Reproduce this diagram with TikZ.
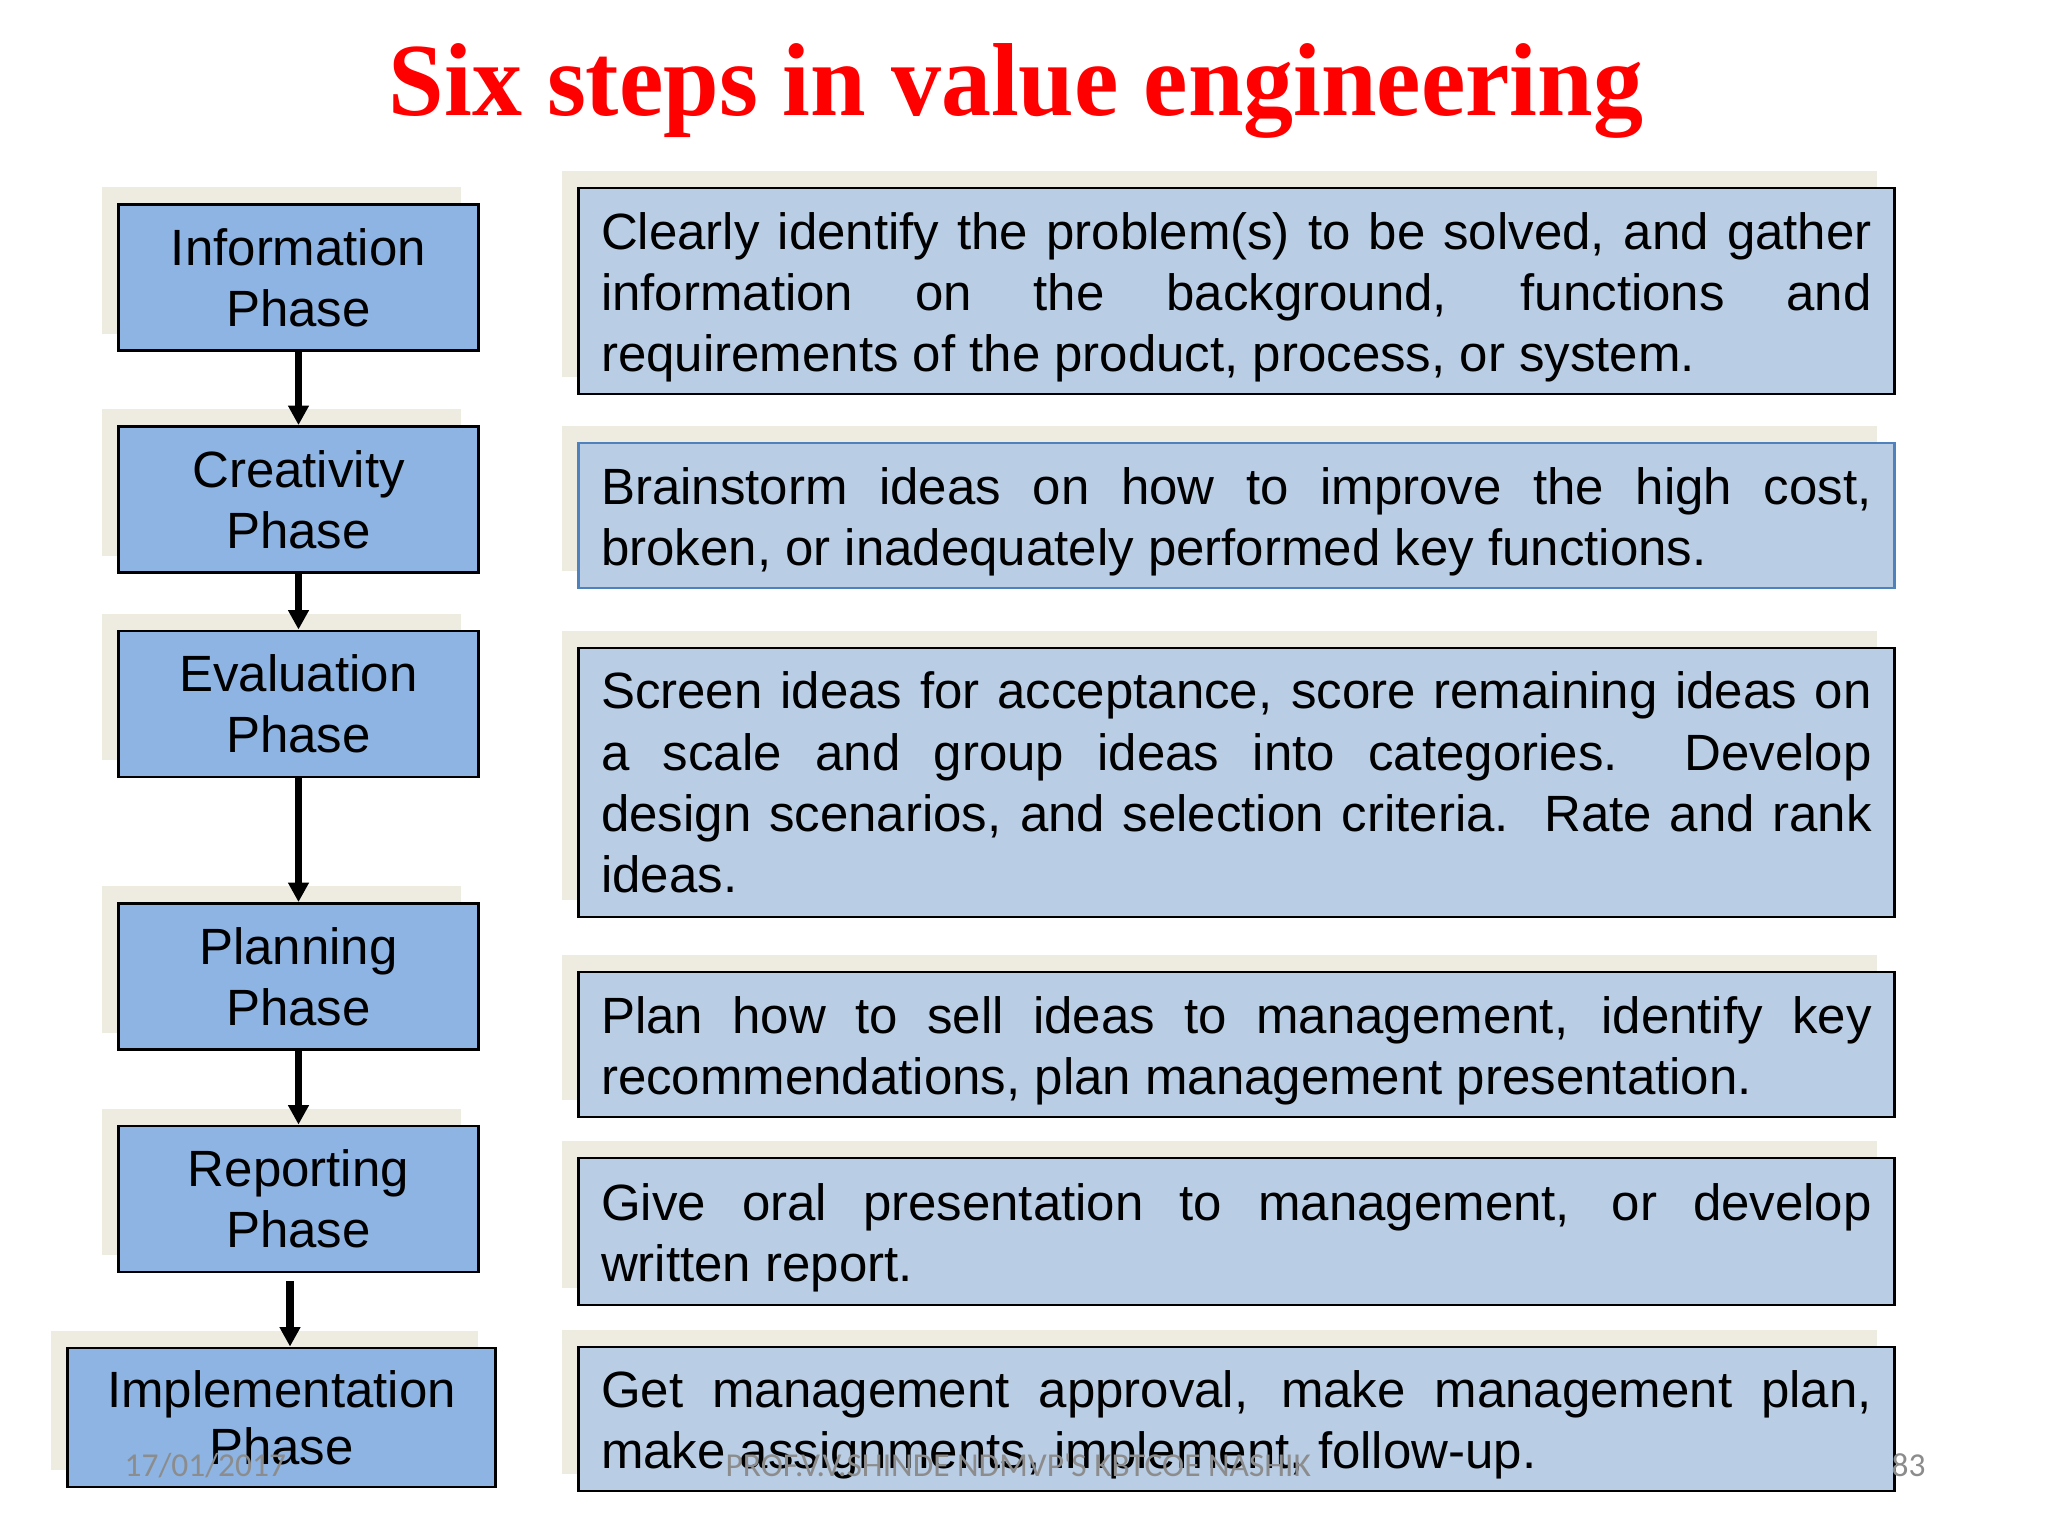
\documentclass[tikz,border=0pt]{standalone}
\usepackage{fontspec}
\usepackage{graphicx}
\setmainfont{Liberation Sans}
\newfontfamily\titlefont{Liberation Serif}
\newfontfamily\footfont{Carlito}
\usetikzlibrary{arrows.meta,shadows}
\definecolor{phasefill}{RGB}{141,180,226}
\definecolor{taskfill}{RGB}{185,205,229}
\definecolor{shadowgray}{RGB}{238,236,225}
\definecolor{taskblue}{RGB}{79,129,189}
\definecolor{footgray}{RGB}{140,140,140}
\definecolor{titlered}{RGB}{255,0,0}
\hyphenpenalty=10000
\exhyphenpenalty=10000
\begin{document}
\begin{tikzpicture}[x=0.01cm, y=-0.01cm,
    phase/.style = {rectangle, draw = black, line width = 0.8pt, fill = phasefill,
      minimum width = 3.59cm, minimum height = 1.46cm, align = center,
      font = \fontsize{14.5}{17.4}\selectfont,
      general shadow = {fill = shadowgray, shadow xshift = -0.17cm, shadow yshift = 0.17cm}},
    task/.style = {rectangle, draw = black, line width = 0.8pt, fill = taskfill,
      text width = 12.7cm, inner xsep = 0.225cm, inner ysep = 0pt, align = justify,
      font = \fontsize{14.5}{17.4}\selectfont,
      general shadow = {fill = shadowgray, shadow xshift = -0.17cm, shadow yshift = 0.17cm}},
    lowered/.style = {execute at begin node = {\rule{0pt}{0.49cm}}},
    flow/.style = {line width = 2pt, -{Triangle[length = 5.5pt, width = 5.6pt]}},
    foot/.style = {font = \footfont\fontsize{9.5}{11}\selectfont, text = footgray, inner sep = 0pt}]
  \useasboundingbox [fill = white] (0,0) rectangle (2048,1536);

  \node [font = \titlefont\bfseries\fontsize{29.5}{36}\selectfont, text = titlered, anchor = base]
    (title) at (1016,115) {\scalebox{0.963}[1]{Six steps in value engineering}};

  % phases
  \node [phase] (info) at (298.5,277.5) {Information\\Phase};
  \node [phase] (creat) at (298.5,499.5) {Creativity\\Phase};
  \node [phase] (eval) at (298.5,704) {Evaluation\\Phase};
  \node [phase] (plan) at (298.5,976.5) {Planning\\Phase};
  \node [phase] (report) at (298.5,1199) {Reporting\\Phase};
  \node [phase, minimum width = 4.27cm, minimum height = 1.39cm,
    font = \fontsize{14.5}{16.3}\selectfont] (impl) at (281.5,1417.5) {Implementation\\Phase};

  \draw [flow] (info) -- (creat);
  \draw [flow] (creat) -- (eval);
  \draw [flow] (eval) -- (plan);
  \draw [flow] (plan) -- (report);
  \draw [flow] ([xshift = 0.085cm, yshift = -0.08cm] impl.north |- report.south)
    -- ([xshift = 0.085cm] impl.north);

  % descriptions
  \node [task, lowered, minimum height = 2.06cm] (infotxt) at (1236.5,291)
    {Clearly identify the problem(s) to be solved, and gather\linebreak
     information on the background, functions and\linebreak
     requirements of the product, process, or system.};
  \node [task, lowered, draw = taskblue, minimum height = 1.45cm] (creattxt) at (1236.5,515.5)
    {Brainstorm ideas on how to improve the high cost,\linebreak
     broken, or inadequately performed key functions.};
  \node [task, minimum height = 2.69cm] (evaltxt) at (1236.5,782.5)
    {Screen ideas for acceptance, score remaining ideas on\linebreak
     a scale and group ideas into categories.\ \ Develop\linebreak
     design scenarios, and selection criteria.\ \ Rate and rank\linebreak
     ideas.};
  \node [task, lowered, minimum height = 1.45cm] (plantxt) at (1236.5,1044.5)
    {Plan how to sell ideas to management, identify key\linebreak
     recommendations, plan management presentation.};
  \node [task, lowered, minimum height = 1.47cm] (reporttxt) at (1236.5,1231.5)
    {Give oral presentation to management, or develop\linebreak
     written report.};
  \node [task, lowered, minimum height = 1.44cm] (impltxt) at (1236.5,1419)
    {Get management approval, make management plan,\linebreak
     make assignments, implement, follow-up.};

  % footer
  \node [foot, anchor = base west] (date) at (124,1476) {17/01/2017};
  \node [foot, anchor = base west] (author) at (725,1476) {PROF.V.V.SHINDE NDMVP'S KBTCOE NASHIK};
  \node [foot, anchor = base west] (page) at (1891,1476) {83};
\end{tikzpicture}
\end{document}
